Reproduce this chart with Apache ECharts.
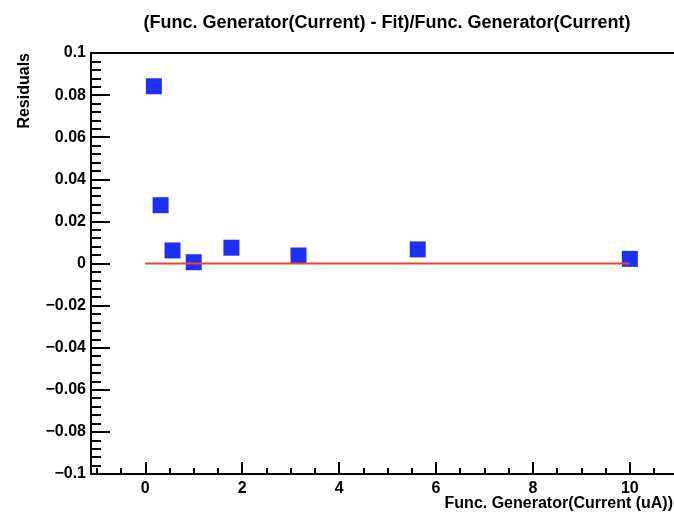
<!DOCTYPE html>
<html>
<head>
<meta charset="utf-8">
<script src="https://cdn.jsdelivr.net/npm/echarts@6/dist/echarts.min.js"></script>
<style>
    html, body { margin: 0; padding: 0; background: #fff; }
    #chart { width: 674px; height: 515px; }
</style>
</head>
<body>
<div id="chart"></div>
<script>
// ---- data
var currentVals = [0.1778, 0.3162, 0.5623, 1, 1.778, 3.162, 5.623, 10];   // Func. Generator (uA)
var residualVals = [0.0842, 0.0277, 0.0062, 0.0006, 0.0075, 0.0038, 0.0067, 0.0022];
var fitX = [0, 10];   // red fit line (residual = 0)
var fitY = [0, 0];

var FONT = '"Liberation Sans", Arial, sans-serif';

var scatterData = currentVals.map(function (x, i) { return [x, residualVals[i]]; });
var fitData = fitX.map(function (x, i) { return [x, fitY[i]]; });

var myChart = echarts.init(document.getElementById('chart'));

var option = {
    backgroundColor: '#fff',
    animation: false,
    title: {
        text: '(Func. Generator(Current) - Fit)/Func. Generator(Current)',
        left: 382,
        top: 9,
        textAlign: 'center',
        textStyle: { fontFamily: FONT, fontSize: 18, fontWeight: 'bold', color: '#000' }
    },
    grid: {
        left: 91, top: 53, width: 597, height: 421,
        outerBoundsMode: 'none', containLabel: false,
        show: true, borderColor: '#000', borderWidth: 2, backgroundColor: 'transparent'
    },
    xAxis: [
        {//---main axis: major ticks + labels
            type: 'value', position: 'bottom',
            min: -1.12, max: 11.2, splitNumber: 6,
            axisLine: { onZero: false, lineStyle: { color: '#000', width: 2 } },
            axisTick: { inside: true, length: 12, lineStyle: { color: '#000', width: 2 } },
            axisLabel: {
                showMinLabel: false, showMaxLabel: false, margin: 7,
                fontFamily: FONT, fontSize: 16, fontWeight: 'bold', color: '#000'
            },
            splitLine: { show: false }
        },
        {//---overlay axis only for the small ticks every 0.5
            type: 'value', position: 'bottom', offset: 0,
            min: -1.12, max: 11.2, splitNumber: 25,
            axisLine: { show: false, onZero: false },
            axisTick: { inside: true, length: 6, lineStyle: { color: '#000', width: 2 } },
            axisLabel: { show: false },
            splitLine: { show: false }
        }
    ],
    yAxis: {
        type: 'value',
        min: -0.1, max: 0.1, interval: 0.02,
        axisLine: { onZero: false, lineStyle: { color: '#000', width: 2 } },
        axisTick: { inside: true, length: 19, lineStyle: { color: '#000', width: 2 } },
        minorTick: { show: true, splitNumber: 5, length: 10, lineStyle: { color: '#000', width: 2 } },
        axisLabel: {
            margin: 5,
            fontFamily: FONT, fontSize: 16, fontWeight: 'bold', color: '#000',
            formatter: function (v) {
                if (Math.abs(v) < 1e-9) return '0';
                return (v < 0 ? '\u2212' : '') + String(+Math.abs(v).toFixed(2));
            }
        },
        splitLine: { show: false }
    },
    graphic: [
        {
            type: 'text', x: 25, y: 53, rotation: Math.PI / 2,
            style: {
                text: 'Residuals', align: 'right', verticalAlign: 'middle',
                font: 'bold 16px ' + FONT, fill: '#000'
            }
        },
        {
            type: 'text', x: 673, y: 504,
            style: {
                text: 'Func. Generator(Current (uA))', align: 'right', verticalAlign: 'middle',
                font: 'bold 16px ' + FONT, fill: '#000'
            }
        }
    ],
    series: [
        {
            name: 'residuals', type: 'scatter', xAxisIndex: 0,
            data: scatterData,
            symbol: 'rect', symbolSize: 16,
            itemStyle: { color: '#1f2ff5', opacity: 1 }
        },
        {
            name: 'fit', type: 'line', xAxisIndex: 0,
            data: fitData,
            showSymbol: false, symbol: 'none',
            lineStyle: { color: '#f0452a', width: 2 },
            z: 3
        }
    ]
};

myChart.setOption(option);
</script>
</body>
</html>
